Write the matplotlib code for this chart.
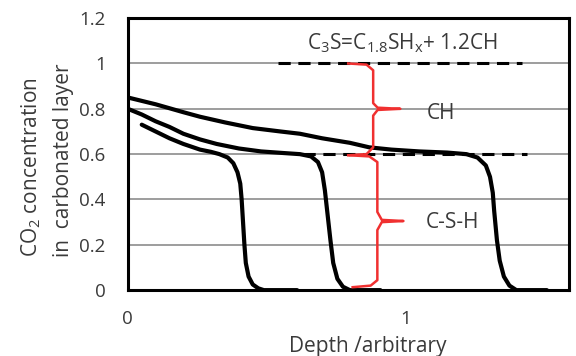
import matplotlib
matplotlib.use('Agg')
import matplotlib.pyplot as plt

plt.rcParams['font.family'] = ['Open Sans', 'DejaVu Sans']
plt.rcParams['mathtext.default'] = 'regular'

# curves (depth, CO2 concentration)
fast_x = [0.05, 0.10, 0.15, 0.20, 0.26, 0.30, 0.33, 0.36, 0.38, 0.395, 0.405, 0.41,
          0.415, 0.42, 0.425, 0.435, 0.45, 0.47, 0.49, 0.61]
fast_y = [0.73, 0.70, 0.67, 0.645, 0.62, 0.61, 0.60, 0.585, 0.56, 0.52, 0.47, 0.40,
          0.30, 0.20, 0.12, 0.06, 0.025, 0.008, 0.0, 0.0]

mid_x = [0.0, 0.05, 0.10, 0.15, 0.20, 0.26, 0.32, 0.40, 0.48, 0.56, 0.62, 0.66, 0.685,
         0.70, 0.71, 0.72, 0.73, 0.74, 0.755, 0.775, 0.80, 0.91]
mid_y = [0.80, 0.775, 0.745, 0.72, 0.69, 0.665, 0.645, 0.625, 0.612, 0.605, 0.60, 0.59, 0.565,
         0.52, 0.44, 0.33, 0.22, 0.12, 0.05, 0.015, 0.0, 0.0]

slow_x = [0.0, 0.10, 0.20, 0.26, 0.35, 0.45, 0.55, 0.62, 0.70, 0.80, 0.87, 0.95, 1.05,
          1.15, 1.22, 1.26, 1.29, 1.305, 1.315, 1.32, 1.33, 1.34, 1.355, 1.375, 1.40, 1.51]
slow_y = [0.85, 0.82, 0.785, 0.765, 0.74, 0.715, 0.70, 0.69, 0.67, 0.65, 0.63, 0.62, 0.612,
          0.607, 0.60, 0.585, 0.55, 0.50, 0.43, 0.35, 0.22, 0.13, 0.06, 0.02, 0.0, 0.0]

# dashed reference levels
levels = [1.0, 0.6]
level_x0 = [0.54, 0.63]
level_x1 = [1.42, 1.44]

# braces
ch_brace_x = [0.794, 0.86, 0.884, 0.884, 0.90, 0.982, 0.90, 0.884, 0.884, 0.86, 0.794]
ch_brace_y = [1.0, 0.995, 0.97, 0.825, 0.805, 0.80, 0.795, 0.77, 0.63, 0.60, 0.595]
csh_brace_x = [0.80, 0.87, 0.899, 0.899, 0.915, 0.993, 0.915, 0.899, 0.899, 0.875, 0.81]
csh_brace_y = [0.595, 0.59, 0.565, 0.345, 0.31, 0.305, 0.30, 0.265, 0.044, 0.02, 0.013]

fig = plt.figure(figsize=(5.76, 3.56), dpi=100)
ax = fig.add_axes([0.222, 0.185, 0.766, 0.764])

for y in [0.0, 0.2, 0.4, 0.6, 0.8, 1.0]:
    ax.axhline(y, color='#8c8c8c', lw=1.2, zorder=1)

for xs, ys in [(fast_x, fast_y), (mid_x, mid_y), (slow_x, slow_y)]:
    ax.plot(xs, ys, color='black', lw=3.0, solid_capstyle='round',
            solid_joinstyle='round', zorder=3)

for lv, a, b in zip(levels, level_x0, level_x1):
    ax.plot([a, b], [lv, lv], color='black', lw=2.2, dashes=(4, 2.5), zorder=2)

ax.plot(ch_brace_x, ch_brace_y, color='#f03030', lw=1.8, zorder=4)
ax.plot(csh_brace_x, csh_brace_y, color='#f03030', lw=1.8, zorder=4)

txt = '#3a3a3a'
ax.text(0.99, 1.09, 'C$_3$S=C$_{1.8}$SH$_x$+ 1.2CH', ha='center', va='center',
        fontsize=15, color=txt)
ax.text(1.13, 0.78, 'CH', ha='center', va='center', fontsize=15, color=txt)
ax.text(1.17, 0.30, 'C-S-H', ha='center', va='center', fontsize=15, color=txt)

ax.set_xlim(0, 1.59)
ax.set_ylim(0, 1.2)
ax.set_xticks([0, 1])
ax.set_xticklabels(['0', '1'])
ax.set_yticks([0, 0.2, 0.4, 0.6, 0.8, 1.0, 1.2])
ax.set_yticklabels(['0', '0.2', '0.4', '0.6', '0.8', '1', '1.2'])
ax.tick_params(axis='both', length=0, labelsize=13.5, labelcolor=txt)
ax.tick_params(axis='x', pad=14)
ax.tick_params(axis='y', pad=16)
for s in ax.spines.values():
    s.set_linewidth(2.2)
    s.set_color('black')

ax.set_xlabel('Depth /arbitrary', fontsize=15, color=txt)
ax.xaxis.set_label_coords(0.544, -0.17)

fig.text(31 / 576, 1 - 257 / 356, 'CO$_2$ concentration', rotation=90,
         ha='center', va='bottom', fontsize=15, color=txt)
fig.text(63 / 576, 1 - 257 / 356, 'in  carbonated layer', rotation=90,
         ha='center', va='bottom', fontsize=15, color=txt)

fig.savefig('out.png', dpi=100)
